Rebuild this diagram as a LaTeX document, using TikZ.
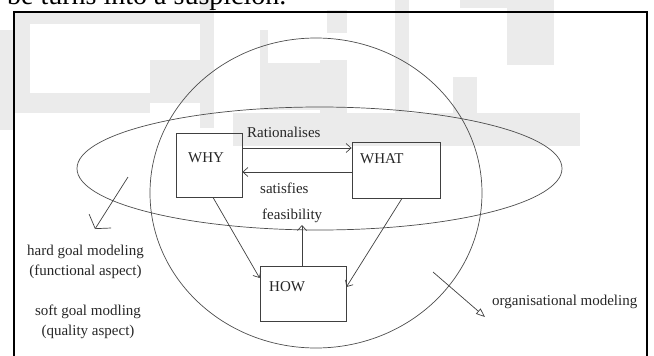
\documentclass[tikz,border=0pt]{standalone}
\usepackage{fontspec}
\setmainfont{Liberation Serif}
\usetikzlibrary{arrows.meta,positioning}
\tikzset{
  goal box/.style={
    rectangle,draw=black!75,line width=0.8pt,inner sep=0pt
  },
  goal text/.style={
    anchor=base west,inner sep=0pt,text=black!85,
    font=\fontsize{15}{20}\selectfont
  },
  aspect text/.style={
    align=center,inner sep=0pt,text=black!85,
    font=\fontsize{15}{20}\selectfont
  },
  goal edge/.style={
    draw=black!75,line width=0.7pt,
    -{Straight Barb[length=5pt,width=9pt]}
  },
  wide edge/.style={
    draw=black!75,line width=0.7pt,
    -{Straight Barb[length=9pt,width=26pt]}
  },
  open edge/.style={
    draw=black!75,line width=0.7pt,
    -{Triangle[open,length=9pt,width=7pt]}
  },
  shade bar/.style={fill=black!8}
}

\begin{document}
\begin{tikzpicture}[x=1pt,y=-1pt]
  \useasboundingbox (0,0) rectangle (654,356);

  % faint watermark behind the figure
  \foreach \xa/\ya/\xb/\yb in {0/30/13/130,14/12/30/113,30/93/150/113,
      14/12/205/24,200/0/214/128,150/60/200/103,260/30/268/110,
      268/63/327/110,327/10/347/33,320/60/347/113,233/113/580/146,
      395/0/409/135,460/0/554/8,507/8/554/65,453/77/477/113}
    \fill[shade bar] (\xa,\ya) rectangle (\xb,\yb);

  \node[anchor=base west,inner sep=0pt,font=\fontsize{28}{30}\selectfont]
    (pagetext) at (7,5) {be turns into a suspicion.};

  \draw[line width=1.5pt] (14,12) rectangle (647,380);

  \draw[draw=black!70,line width=0.7pt] (316,193) ellipse [x radius=166,y radius=155];
  \draw[draw=black!70,line width=0.7pt] (319.5,168.5) ellipse [x radius=242.5,y radius=61.5];

  \node[goal box,minimum width=66pt,minimum height=64pt] (WHY) at (209,165) {};
  \node[goal box,minimum width=88pt,minimum height=56pt] (WHAT) at (396,170) {};
  \node[goal box,minimum width=86pt,minimum height=55pt] (HOW) at (303,293.5) {};

  \node[goal text] (whytext) at (188,162) {WHY};
  \node[goal text] (whattext) at (360,163) {WHAT};
  \node[goal text] (howtext) at (269,291) {HOW};

  \node[goal text] (rational) at (247,137) {Rationalises};
  \node[goal text] (satisfy) at (260,193) {satisfies};
  \node[goal text] (feasible) at (262,219) {feasibility};

  \draw[goal edge] (WHY.east |- 0,148) -- (WHAT.west |- 0,148);
  \draw[goal edge] (WHAT.west |- 0,172) -- (WHY.east |- 0,172);
  \draw[goal edge] (WHY.south -| 213,0) -- (HOW.west |- 0,278);
  \draw[goal edge] (WHAT.south -| 402,0) -- (HOW.east |- 0,287);
  \coordinate (feasTip) at (302,225);
  \draw[goal edge] (HOW.north -| 302,0) -- (feasTip);

  \node[aspect text] (hardgoal) at (85.5,261.5)
    {hard goal modeling\\(functional aspect)};
  \node[aspect text] (softgoal) at (88,322)
    {soft goal modling\\(quality aspect)};
  \node[goal text] (orgmodel) at (492,305) {organisational modeling};

  \coordinate (hardFrom) at (128,177);
  \coordinate (hardTo) at (95,229);
  \draw[wide edge] (hardFrom) -- (hardTo);

  \coordinate (orgFrom) at (433,272);
  \coordinate (orgTo) at (485,317);
  \draw[open edge] (orgFrom) -- (orgTo);
\end{tikzpicture}
\end{document}
